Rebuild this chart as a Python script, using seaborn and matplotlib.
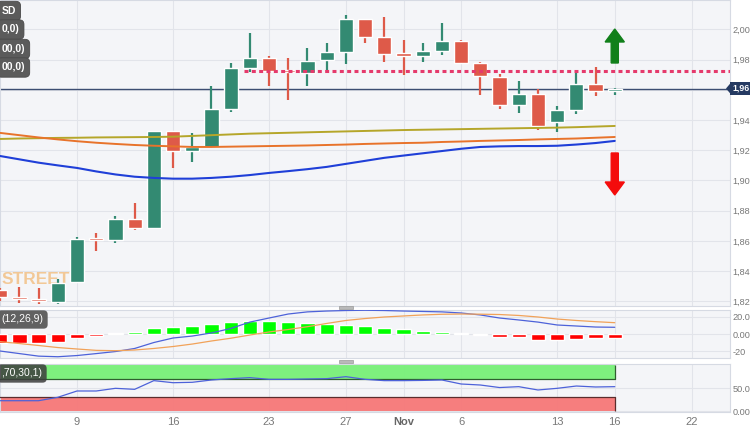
import numpy as np
import pandas as pd
import matplotlib
matplotlib.use('Agg')
import matplotlib.pyplot as plt
from matplotlib.patches import Polygon, Rectangle
import seaborn as sns

# daily candles, Oct 3 -> Nov 16 (trading days)
days = ['Oct 3', 'Oct 4', 'Oct 5', 'Oct 6', 'Oct 9', 'Oct 10', 'Oct 11', 'Oct 12', 'Oct 13',
        'Oct 16', 'Oct 17', 'Oct 18', 'Oct 19', 'Oct 20', 'Oct 23', 'Oct 24', 'Oct 25', 'Oct 26',
        'Oct 27', 'Oct 30', 'Oct 31', 'Nov 1', 'Nov 2', 'Nov 3', 'Nov 6', 'Nov 7', 'Nov 8',
        'Nov 9', 'Nov 10', 'Nov 13', 'Nov 14', 'Nov 15', 'Nov 16']
opens = [1.8275, 1.8225, 1.8212, 1.8195, 1.8328, 1.8616, 1.8606, 1.8745, 1.8685,
         1.9328, 1.9195, 1.9222, 1.9474, 1.9745, 1.9811, 1.9725, 1.9712, 1.9798,
         1.9851, 2.0070, 1.9950, 1.9838, 1.9825, 1.9858, 1.9924, 1.9778, 1.9685,
         1.9500, 1.9573, 1.9387, 1.9467, 1.9639, 1.9593]
highs = [1.8290, 1.8295, 1.8288, 1.8348, 1.8626, 1.8652, 1.8765, 1.8851, 1.9330,
         1.9330, 1.9315, 1.9626, 1.9778, 1.9977, 1.9825, 1.9811, 1.9877, 1.9911,
         2.0096, 2.0072, 2.0083, 1.9930, 1.9911, 2.0043, 1.9930, 1.9785, 1.9705,
         1.9659, 1.9606, 1.9493, 1.9712, 1.9752, 1.9613]
lows = [1.8200, 1.8190, 1.8185, 1.8180, 1.8325, 1.8533, 1.8586, 1.8672, 1.8682,
        1.9083, 1.9123, 1.9215, 1.9454, 1.9719, 1.9626, 1.9533, 1.9626, 1.9719,
        1.9772, 1.9911, 1.9785, 1.9699, 1.9785, 1.9831, 1.9778, 1.9566, 1.9474,
        1.9447, 1.9334, 1.9321, 1.9440, 1.9560, 1.9566]
closes = [1.8228, 1.8220, 1.8206, 1.8321, 1.8613, 1.8610, 1.8745, 1.8685, 1.9328,
          1.9195, 1.9222, 1.9474, 1.9745, 1.9811, 1.9725, 1.9719, 1.9791, 1.9851,
          2.0070, 1.9950, 1.9838, 1.9831, 1.9858, 1.9924, 1.9778, 1.9692, 1.9500,
          1.9573, 1.9361, 1.9467, 1.9639, 1.9593, 1.9607]

sma_blue = [1.9162, 1.9140, 1.9118, 1.9100, 1.9083, 1.9060, 1.9040, 1.9025, 1.9017,
            1.9012, 1.9012, 1.9017, 1.9025, 1.9036, 1.9050, 1.9062, 1.9075, 1.9090,
            1.9110, 1.9130, 1.9150, 1.9165, 1.9180, 1.9195, 1.9210, 1.9222, 1.9226,
            1.9228, 1.9228, 1.9230, 1.9238, 1.9248, 1.9262]
sma_orange = [1.9315, 1.9300, 1.9285, 1.9272, 1.9260, 1.9250, 1.9242, 1.9235, 1.9230,
              1.9226, 1.9222, 1.9222, 1.9224, 1.9226, 1.9228, 1.9230, 1.9232, 1.9235,
              1.9238, 1.9242, 1.9245, 1.9248, 1.9250, 1.9255, 1.9258, 1.9262, 1.9265,
              1.9268, 1.9272, 1.9275, 1.9278, 1.9283, 1.9288]
sma_olive = [1.9275, 1.9278, 1.9280, 1.9282, 1.9283, 1.9285, 1.9286, 1.9287, 1.9288,
             1.9290, 1.9295, 1.9300, 1.9305, 1.9310, 1.9313, 1.9316, 1.9319, 1.9322,
             1.9325, 1.9328, 1.9331, 1.9334, 1.9336, 1.9338, 1.9340, 1.9342, 1.9344,
             1.9346, 1.9348, 1.9350, 1.9353, 1.9357, 1.9361]

macd_line = [-20.0, -23.0, -26.0, -26.7, -25.3, -23.0, -20.6, -17.0, -10.0, -4.7, -2.4,
             1.2, 6.5, 14.0, 18.8, 23.5, 26.0, 27.0, 27.6, 27.9, 27.6, 27.0, 26.5, 26.0,
             24.7, 22.4, 18.8, 16.5, 14.0, 10.6, 9.4, 8.2, 7.9]
macd_signal = [-9.0, -11.2, -13.5, -15.9, -17.6, -19.2, -19.6, -18.8, -17.0, -14.7, -11.8,
               -8.2, -5.0, -1.2, 2.4, 5.3, 8.6, 12.4, 15.9, 18.2, 20.0, 21.2, 22.4, 23.2,
               23.5, 23.3, 22.9, 21.8, 20.0, 17.6, 15.9, 14.5, 13.3]
macd_hist = [-10.5, -10.5, -10.0, -9.0, -5.0, -2.5, 1.0, 2.5, 7.0, 8.6, 9.8, 11.8, 13.7,
             15.3, 15.0, 13.7, 12.5, 11.4, 11.0, 9.4, 7.5, 5.5, 3.9, 2.7, 1.0, -0.8, -3.0,
             -4.0, -7.5, -7.5, -5.5, -5.0, -4.5]

rsi = [22.4, 22.4, 22.4, 29.8, 43.5, 43.5, 49.3, 47.1, 66.0, 61.5, 62.4, 67.4, 70.3, 72.5,
       68.8, 68.8, 69.6, 70.3, 74.6, 68.8, 66.0, 66.0, 66.5, 67.4, 58.7, 56.5, 51.0, 52.9,
       45.7, 49.3, 54.3, 52.2, 52.9]

tick_days = [4, 9, 14, 18, 21, 24, 29, 32, 36]
tick_labels = ['9', '16', '23', '27', 'Nov', '6', '13', '16', '22']
price_ticks = [1.82, 1.84, 1.86, 1.88, 1.90, 1.92, 1.94, 1.96, 1.98, 2.00]
macd_ticks = [20, 0, -20]
macd_tick_labels = ['20.0', '0.00', '-20']
rsi_ticks = [50, 0]
rsi_tick_labels = ['50.0', '0.00']
resistance = 1.9725
resistance_from = 13
last_price = 1.9607
arrow_day = 32
up_arrow = (1.9778, 2.0003)
down_arrow = (1.9182, 1.8904)

df = pd.DataFrame({'day': np.arange(len(days)), 'open': opens, 'high': highs, 'low': lows,
                   'close': closes, 'sma_blue': sma_blue, 'sma_orange': sma_orange,
                   'sma_olive': sma_olive, 'macd': macd_line, 'signal': macd_signal,
                   'hist': macd_hist, 'rsi': rsi})

sns.set_style('white')
plt.rcParams['font.family'] = ['Liberation Sans', 'DejaVu Sans']

GREEN = '#338a72'
RED = '#de5a49'
PANEL = '#f4f5f8'
GRID = '#e2e4ea'
LABEL = '#787878'
W, H = 750, 430


def px_box(x0, y0, x1, y1):
    return [x0 / W, 1 - y1 / H, (x1 - x0) / W, (y1 - y0) / H]


def px(x, y):
    return (x / W, 1 - y / H)


fig = plt.figure(figsize=(7.5, 4.3), dpi=100)
ax = fig.add_axes(px_box(0, 0, 730, 306))
ax_macd = fig.add_axes(px_box(0, 309.5, 730, 357.5), sharex=ax)
ax_rsi = fig.add_axes(px_box(0, 364.3, 730, 412.3), sharex=ax)

for a in (ax, ax_macd, ax_rsi):
    a.set_facecolor(PANEL)
    for s in a.spines.values():
        s.set_color('#d6dae3')
        s.set_linewidth(0.8)
    a.grid(True, color=GRID, lw=0.8)
    a.set_axisbelow(True)
    a.yaxis.tick_right()
    a.tick_params(axis='y', length=0, pad=1.6, labelsize=6.6, labelcolor=LABEL)
    a.tick_params(axis='x', length=0)
    a.set_xticks(tick_days)

# --- price panel
ax.set_ylim(1.8169, 2.0195)
ax.set_yticks(price_ticks)
ax.set_yticklabels(['' if abs(v - 1.96) < 1e-9 else f'{v:.2f}'.replace('.', ',') for v in price_ticks])
ax.tick_params(labelbottom=False)

ax.text(0.002, 0.085, 'STREET', transform=ax.transAxes, fontsize=12.5, fontweight='bold',
        color='#f2c48d', alpha=0.9, va='center', ha='left', zorder=1)

up = df['close'] >= df['open']
colors = np.where(up, GREEN, RED)
body_low = np.minimum(df['open'], df['close'])
body_h = np.abs(df['close'] - df['open'])
min_h = 0.0014
body_low = np.where(body_h < min_h, (df['open'] + df['close']) / 2 - min_h / 2, body_low)
body_h = np.maximum(body_h, min_h)
ax.vlines(df['day'], df['low'], df['high'], colors=colors, lw=1.6, zorder=3)
ax.bar(df['day'], body_h, bottom=body_low, width=0.74, color=colors, zorder=4)

sns.lineplot(data=df, x='day', y='sma_olive', ax=ax, color='#b5a62a', lw=1.4, zorder=5)
sns.lineplot(data=df, x='day', y='sma_orange', ax=ax, color='#e8732b', lw=1.4, zorder=5)
sns.lineplot(data=df, x='day', y='sma_blue', ax=ax, color='#1f3fd8', lw=1.5, zorder=5)
ax.set_xlabel('')
ax.set_ylabel('')

ax.plot([resistance_from - 0.3, 38.0], [resistance, resistance], color='#e53a6c',
        lw=2.2, ls=(0, (1.3, 1.1)), zorder=6)
ax.axhline(last_price, color='#3c4d72', lw=1, zorder=2)

ax.arrow(arrow_day, up_arrow[0], 0, up_arrow[1] - up_arrow[0], width=0.37, head_width=1.0,
         head_length=0.0086, length_includes_head=True, color='#11801a', zorder=7)
ax.arrow(arrow_day, down_arrow[0], 0, down_arrow[1] - down_arrow[0], width=0.37, head_width=1.0,
         head_length=0.0086, length_includes_head=True, color='#f40c0c', zorder=7)

# last price tag
y_tag = 88.5
fig.patches.append(Polygon([px(726, y_tag), px(731.5, y_tag - 6.5), px(731.5, y_tag + 6.5)],
                           closed=True, transform=fig.transFigure, fc='#253a62', ec='none'))
fig.text(*px(732, y_tag), f'{last_price:.2f}'.replace('.', ','), color='white', fontsize=6.3,
         fontweight='bold', va='center', ha='left',
         bbox=dict(boxstyle='square,pad=0.25', fc='#253a62', ec='none'))

# legend tags top-left (cut by the edge)
for label, yc in [('SD', 11), ('0,0)', 29.5), ('00,0)', 49), ('00,0)', 67.5)]:
    fig.text(*px(1.5, yc), label, color='white', fontsize=7.5, fontweight='bold', va='center',
             ha='left', bbox=dict(boxstyle='round,pad=0.45', fc='#5b5b5b', ec='#4a4a4a', lw=0.6))

# --- MACD panel
ax_macd.set_ylim(-27.6, 28.8)
ax_macd.set_yticks(macd_ticks)
ax_macd.set_yticklabels(macd_tick_labels)
ax_macd.tick_params(labelbottom=False)
hist_colors = ['#00ff00' if v >= 2 else '#8ef08e' if v > 0 else '#ff0000' for v in macd_hist]
ax_macd.bar(df['day'], df['hist'], width=0.74, color=hist_colors, zorder=3)
sns.lineplot(data=df, x='day', y='macd', ax=ax_macd, color='#4d62d9', lw=0.9, zorder=4)
sns.lineplot(data=df, x='day', y='signal', ax=ax_macd, color='#f1a259', lw=0.9, zorder=4)
ax_macd.set_xlabel('')
ax_macd.set_ylabel('')
fig.text(*px(1.5, 319.5), '(12,26,9)', color='white', fontsize=7.5, va='center', ha='left',
         bbox=dict(boxstyle='round,pad=0.4', fc='#595959', ec='none', alpha=0.95))

# --- RSI panel
ax_rsi.set_ylim(-2.8, 101.5)
ax_rsi.set_yticks(rsi_ticks)
ax_rsi.set_yticklabels(rsi_tick_labels)
last_day = len(days) - 1
ax_rsi.fill_between([-1, last_day], 70, 100, color='#78f078', alpha=0.95, lw=0, zorder=2)
ax_rsi.fill_between([-1, last_day], 0, 30, color='#f77878', alpha=0.95, lw=0, zorder=2)
ax_rsi.plot([-1, last_day], [70, 70], color='#2f5f2f', lw=0.9, zorder=3)
ax_rsi.plot([-1, last_day], [30, 30], color='#5b2d2d', lw=0.9, zorder=3)
ax_rsi.vlines(last_day, 70, 100, colors='#2f5f2f', lw=0.9, zorder=3)
ax_rsi.vlines(last_day, 0, 30, colors='#5b2d2d', lw=0.9, zorder=3)
sns.lineplot(data=df, x='day', y='rsi', ax=ax_rsi, color='#4d62d9', lw=0.9, zorder=4)
ax_rsi.set_xlabel('')
ax_rsi.set_ylabel('')
fig.text(*px(1.5, 373.5), ',70,30,1)', color='white', fontsize=7.5, va='center', ha='left',
         bbox=dict(boxstyle='round,pad=0.4', fc='#3c3c3c', ec='none', alpha=0.85))

ax_rsi.set_xticklabels(tick_labels)
ax_rsi.tick_params(axis='x', labelsize=8, labelcolor=LABEL, pad=3.5)
for t in ax_rsi.get_xticklabels():
    if t.get_text() == 'Nov':
        t.set_fontweight('bold')
        t.set_color('#666666')
ax.set_xlim(-0.01, 38.0)

# panel resize grips
for yg in (305.5, 359.5):
    fig.patches.append(Rectangle(px(338.5, yg + 3), 14 / W, 3 / H, transform=fig.transFigure,
                                 fc='#b9b9b9', ec='#9a9a9a', lw=0.5))

fig.savefig('out.png', dpi=100, facecolor='white')
